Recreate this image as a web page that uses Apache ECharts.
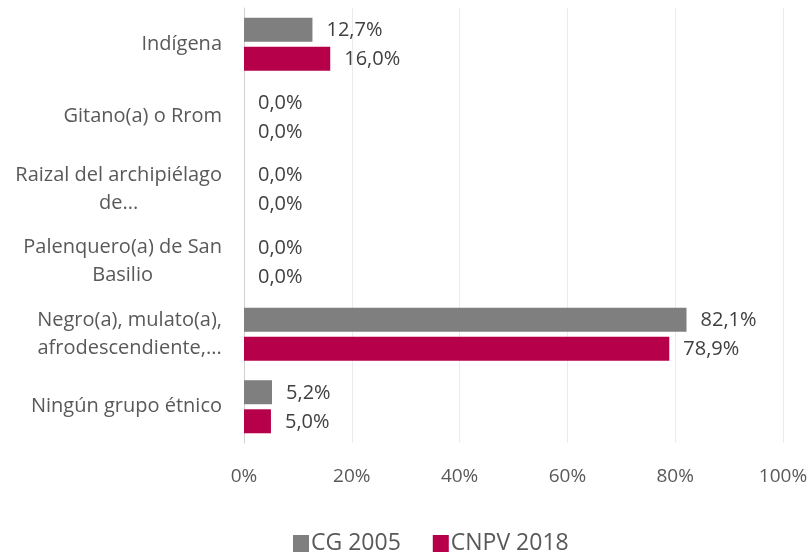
<!DOCTYPE html>
<html>
<head>
<meta charset="utf-8">
<script src="https://cdn.jsdelivr.net/npm/echarts@6/dist/echarts.min.js"></script>
<style>html,body{margin:0;padding:0;background:#fff;}#c{width:812px;height:554px;}</style>
</head>
<body>
<div id="c"></div>
<script>
const categories = [
  'Indígena',
  'Gitano(a) o Rrom',
  'Raizal del archipiélago\nde...',
  'Palenquero(a) de San\nBasilio',
  'Negro(a), mulato(a),\nafrodescendiente,...',
  'Ningún grupo étnico'
];
const seriesNames = ['CG 2005', 'CNPV 2018'];
const cg2005 = [12.7, 0.0, 0.0, 0.0, 82.1, 5.2];
const cnpv2018 = [16.0, 0.0, 0.0, 0.0, 78.9, 5.0];
const xTicks = [0, 20, 40, 60, 80, 100];

const FONT = "'Open Sans', 'Noto Sans', sans-serif";
const chart = echarts.init(document.getElementById('c'), null, {renderer: 'canvas'});
const labelCfg = {
  show: true,
  position: 'right',
  distance: 14,
  offset: [0, 1],
  color: '#404040',
  fontFamily: FONT,
  fontSize: 20,
  formatter: p => p.value.toFixed(1).replace('.', ',') + '%'
};
chart.setOption({
  animation: false,
  textStyle: {fontFamily: FONT},
  grid: {left: 244, right: 29, top: 8, bottom: 111, containLabel: false},
  legend: {
    data: seriesNames,
    top: 532,
    left: 293,
    icon: 'rect',
    itemWidth: 16,
    itemHeight: 17,
    itemGap: 32,
    padding: 0,
    textStyle: {color: '#595959', fontSize: 23, fontFamily: FONT, padding: [0, 0, 0, -3]}
  },
  xAxis: {
    type: 'value',
    min: xTicks[0],
    max: xTicks[xTicks.length - 1],
    interval: 20,
    axisLine: {show: false},
    axisTick: {show: false},
    splitLine: {show: true, lineStyle: {color: '#ebebeb', width: 1}},
    axisLabel: {
      color: '#595959', fontSize: 19, fontFamily: FONT, margin: 24,
      formatter: v => v + '%'
    }
  },
  yAxis: {
    type: 'category',
    data: categories,
    inverse: true,
    axisLine: {show: true, lineStyle: {color: '#d0d0d0', width: 1}},
    axisTick: {show: false},
    axisLabel: {
      color: '#595959', fontSize: 20, fontFamily: FONT, margin: 22,
      lineHeight: 28,
      formatter: v => v.split('\n').map(s => '{c|' + s + '}').join('\n'),
      rich: {c: {align: 'center', color: '#595959', fontSize: 20, fontFamily: FONT, lineHeight: 28}}
    }
  },
  series: [
    {name: seriesNames[0], type: 'bar', data: cg2005, barWidth: 24, barGap: '21%',
     itemStyle: {color: '#7f7f7f'}, label: labelCfg},
    {name: seriesNames[1], type: 'bar', data: cnpv2018, barWidth: 24, barGap: '21%',
     itemStyle: {color: '#b7004a'}, label: labelCfg}
  ]
});
</script>
</body>
</html>
